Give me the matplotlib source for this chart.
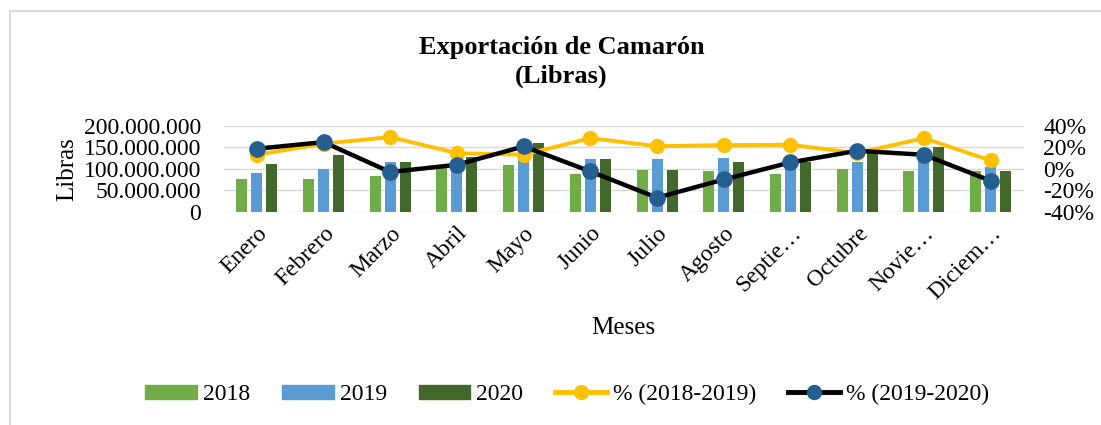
import numpy as np
import matplotlib
matplotlib.use("Agg")
import matplotlib.pyplot as plt
from matplotlib.patches import Rectangle, Patch
from matplotlib.lines import Line2D
from matplotlib.ticker import FuncFormatter

plt.rcParams['font.family'] = ['Liberation Serif', 'DejaVu Serif']

meses = ["Enero", "Febrero", "Marzo", "Abril", "Mayo", "Junio", "Julio",
         "Agosto", "Septie…", "Octubre", "Novie…", "Diciem…"]
lbs_2018 = [75e6, 75e6, 84e6, 102e6, 108e6, 87e6, 98e6, 95e6, 87e6, 99e6, 95e6, 95e6]
lbs_2019 = [90e6, 99e6, 116e6, 112e6, 135e6, 122e6, 122e6, 126e6, 112e6, 116e6, 140e6, 105e6]
lbs_2020 = [111e6, 132e6, 116e6, 128e6, 159e6, 122e6, 98e6, 116e6, 116e6, 140e6, 151e6, 95e6]
pct_18_19 = [13.0, 23.3, 29.5, 14.5, 13.0, 28.5, 21.0, 22.0, 22.3, 14.5, 28.5, 7.7]
pct_19_20 = [18.6, 24.8, -3.1, 3.7, 20.8, -2.5, -27.0, -10.0, 5.9, 16.7, 13.0, -11.2]

c18 = "#70AD47"
c19 = "#5B9BD5"
c20 = "#43682B"
cy = "#FFC000"
cb = "#255E91"

fig = plt.figure(figsize=(11.01, 4.25), dpi=100)
fig.patches.append(Rectangle((10 / 1101, -0.1), 1.2, 1 - 11 / 425 + 0.1,
                             transform=fig.transFigure, fill=False,
                             edgecolor="#D9D9D9", linewidth=1.5))

ax = fig.add_axes([0.203, 0.502, 0.727, 0.202])
x = np.arange(len(meses))
w = 0.165
d = 0.225
ax.bar(x - d, lbs_2018, w, color=c18, zorder=2)
ax.bar(x, lbs_2019, w, color=c19, zorder=2)
ax.bar(x + d, lbs_2020, w, color=c20, zorder=2)
ax.set_xlim(-0.5, len(meses) - 0.5)
ax.set_ylim(0, 200e6)
ax.set_yticks(np.arange(0, 200e6 + 1, 50e6))
ax.yaxis.set_major_formatter(FuncFormatter(lambda v, p: f"{int(v):,}".replace(",", ".")))
ax.grid(axis="y", color="#D9D9D9", linewidth=1, zorder=0)
for s in ax.spines.values():
    s.set_visible(False)
ax.tick_params(axis="y", length=0, labelsize=17, pad=16)
ax.set_xticks(x)
ax.set_xticklabels(meses, rotation=45, ha="right", rotation_mode="anchor", fontsize=17)
ax.tick_params(axis="x", length=0, pad=8)
ax.set_ylabel("Libras", fontsize=18, labelpad=4)
ax.set_xlabel("Meses", fontsize=18, labelpad=10)

ax2 = ax.twinx()
ax2.plot(x, pct_18_19, color=cy, linewidth=2.8, marker="o", markersize=10,
         markerfacecolor=cy, markeredgecolor=cy, zorder=3)
ax2.plot(x, pct_19_20, color="black", linewidth=3.2, marker="o", markersize=11,
         markerfacecolor=cb, markeredgecolor=cb, zorder=4)
ax2.set_ylim(-40, 40)
ax2.set_yticks([-40, -20, 0, 20, 40])
ax2.yaxis.set_major_formatter(FuncFormatter(lambda v, p: f"{int(v)}%"))
for s in ax2.spines.values():
    s.set_visible(False)
ax2.tick_params(length=0, labelsize=17, pad=14)

fig.text(0.51, 0.855, "Exportación de Camarón\n(Libras)", ha="center", va="center",
         fontsize=19, fontweight="bold", linespacing=1.3)

handles = [
    Patch(color=c18), Patch(color=c19), Patch(color=c20),
    Line2D([], [], color=cy, linewidth=3.5, marker="o", markersize=10,
           markerfacecolor=cy, markeredgecolor=cy),
    Line2D([], [], color="black", linewidth=3.5, marker="o", markersize=10,
           markerfacecolor=cb, markeredgecolor=cb),
]
labels = ["2018", "2019", "2020", "% (2018-2019)", "% (2019-2020)"]
fig.legend(handles, labels, loc="center", bbox_to_anchor=(0.515, 0.072), ncol=5,
           frameon=False, fontsize=17, handlelength=2.2, handleheight=0.55,
           columnspacing=1.35, handletextpad=0.25)

fig.savefig("out.png", dpi=100)
